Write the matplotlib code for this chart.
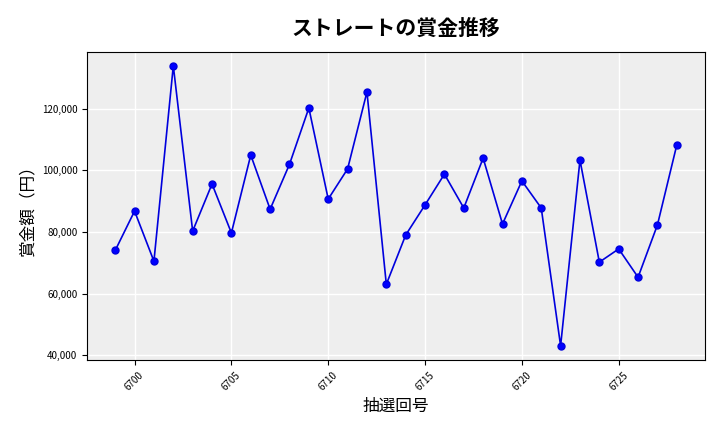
import matplotlib
matplotlib.use("Agg")
import matplotlib.pyplot as plt
from matplotlib.ticker import FuncFormatter

plt.rcParams['font.family'] = ['Noto Sans CJK JP', 'DejaVu Sans']

draws = list(range(6699, 6729))
prizes = [74000, 86800, 70500, 134000, 80300, 95600, 79700, 105000, 87400, 102000,
          120300, 90700, 100500, 125500, 63000, 79000, 88800, 98800, 87800, 104000,
          82600, 96600, 87800, 43000, 103400, 70200, 74500, 65300, 82300, 108300]

fig, ax = plt.subplots(figsize=(7.2, 4.32), dpi=100)
ax.set_facecolor('#EEEEEE')
ax.grid(True, color='white', linewidth=1)
ax.set_axisbelow(True)
ax.plot(draws, prizes, color='#0000DD', marker='o', markersize=5, linewidth=1.2, markerfacecolor='blue')
ax.set_title('ストレートの賞金推移', fontsize=15, fontweight='bold', pad=12)
ax.set_xlabel('抽選回号', fontsize=12)
ax.set_ylabel('賞金額（円）', fontsize=12)
ax.set_xticks(range(6700, 6729, 5))
ax.yaxis.set_major_formatter(FuncFormatter(lambda v, p: f'{int(v):,}'))
ax.tick_params(axis='x', labelrotation=45, labelsize=7)
ax.tick_params(axis='y', labelsize=7)
fig.subplots_adjust(left=0.121, right=0.979, top=0.880, bottom=0.167)
fig.savefig('out.png', dpi=100)
